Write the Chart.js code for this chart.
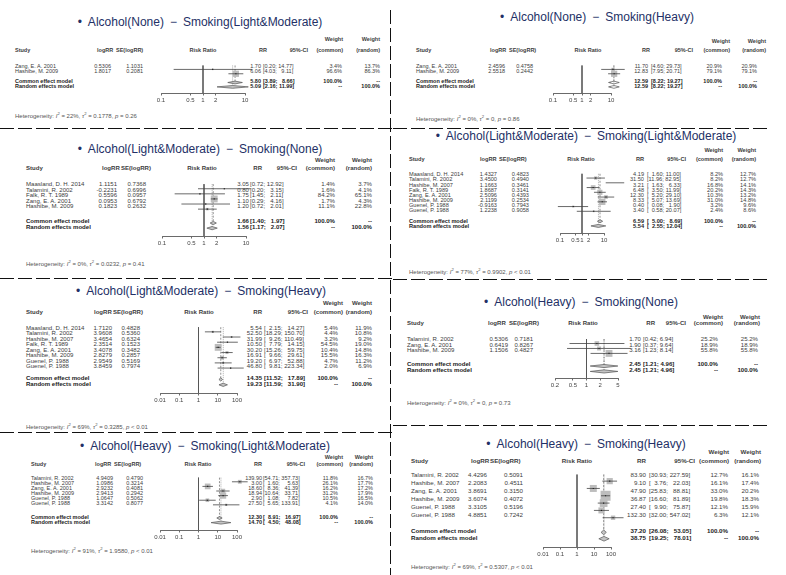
<!DOCTYPE html>
<html>
<head>
<meta charset="utf-8">
<script src="https://cdn.jsdelivr.net/npm/chart.js@4.4.1/dist/chart.umd.min.js"></script>
<style>
  html, body { margin: 0; padding: 0; background: #fff; }
  #page { position: relative; width: 786px; height: 575px; overflow: hidden;
          font-family: "Liberation Sans", Arial, sans-serif; }
  .t { position: absolute; white-space: nowrap; line-height: 0.8; }
  canvas { position: absolute; }
  svg { position: absolute; left: 0; top: 0; }
</style>
</head>
<body>
<div id="page">
  <svg width="786" height="575">
    <g stroke="#111" stroke-width="1" stroke-dasharray="14 4" fill="none">
      <line x1="390.5" y1="10" x2="390.5" y2="575"/>
      <line x1="0" y1="128.5" x2="394" y2="128.5"/>
      <line x1="0" y1="278.5" x2="394" y2="278.5"/>
      <line x1="0" y1="432.5" x2="394" y2="432.5"/>
      <line x1="393" y1="128.5" x2="770" y2="128.5"/>
      <line x1="393" y1="279.5" x2="770" y2="279.5"/>
      <line x1="393" y1="425.5" x2="770" y2="425.5"/>
    </g>
  </svg>
</div>
<script>
// ---- data: one block of small arrays per forest plot ----
const p1Title = ["None", "Light&Moderate"];
const p1Study = ["Zang, E. A. 2001", "Hashibe, M. 2009"];
const p1LogRR = [0.5306, 1.8017];
const p1SE = [1.1031, 0.2081];
const p1RR = [1.70, 6.06];
const p1Lo = [0.20, 4.03];
const p1Hi = [14.77, 9.11];
const p1WC = [3.4, 96.6];
const p1WR = [13.7, 86.3];
const p1Common = [5.80, 3.89, 8.66];
const p1Random = [5.09, 2.16, 11.99];
const p1Het = ["22%", "0.1778", "= 0.26"];
const p1Ticks = [0.1, 0.5, 1, 2, 10];

const p2Title = ["None", "Heavy"];
const p2Study = ["Zang, E. A. 2001", "Hashibe, M. 2009"];
const p2LogRR = [2.4596, 2.5518];
const p2SE = [0.4758, 0.2442];
const p2RR = [11.70, 12.83];
const p2Lo = [4.60, 7.95];
const p2Hi = [29.73, 20.71];
const p2WC = [20.9, 79.1];
const p2WR = [20.9, 79.1];
const p2Common = [12.59, 8.22, 19.27];
const p2Random = [12.59, 8.22, 19.27];
const p2Het = ["0%", "0", "= 0.86"];
const p2Ticks = [0.1, 0.5, 1, 2, 10];

const p3Title = ["Light&Moderate", "None"];
const p3Study = ["Maasland, D. H. 2014", "Talamini, R. 2002", "Falk, R. T. 1989", "Zang, E. A. 2001", "Hashibe, M. 2009"];
const p3LogRR = [1.1151, -0.2231, 0.5596, 0.0953, 0.1823];
const p3SE = [0.7368, 0.6996, 0.0957, 0.6792, 0.2632];
const p3RR = [3.05, 0.80, 1.75, 1.10, 1.20];
const p3Lo = [0.72, 0.20, 1.45, 0.29, 0.72];
const p3Hi = [12.92, 3.15, 2.11, 4.16, 2.01];
const p3WC = [1.4, 1.6, 84.2, 1.7, 11.1];
const p3WR = [3.7, 4.1, 65.1, 4.3, 22.8];
const p3Common = [1.66, 1.40, 1.97];
const p3Random = [1.56, 1.17, 2.07];
const p3Het = ["0%", "0.0232", "= 0.41"];
const p3Ticks = [0.1, 0.5, 1, 2, 10];

const p4Title = ["Light&Moderate", "Light&Moderate"];
const p4Study = ["Maasland, D. H. 2014", "Talamini, R. 2002", "Hashibe, M. 2007", "Falk, R. T. 1989", "Zang, E. A. 2001", "Hashibe, M. 2009", "Guenel, P. 1988", "Guenel, P. 1988"];
const p4LogRR = [1.4327, 3.4500, 1.1663, 1.8687, 2.5096, 2.1199, -0.9163, 1.2238];
const p4SE = [0.4823, 0.4940, 0.3461, 0.3141, 0.4393, 0.2534, 0.7943, 0.9058];
const p4RR = [4.19, 31.50, 3.21, 6.48, 12.30, 8.33, 0.40, 3.40];
const p4Lo = [1.60, 11.96, 1.63, 3.50, 5.20, 5.07, 0.08, 0.58];
const p4Hi = [11.00, 82.95, 6.33, 11.99, 29.10, 13.69, 1.90, 20.07];
const p4WC = [8.2, 8.2, 16.8, 20.2, 10.3, 31.0, 3.2, 2.4];
const p4WR = [12.7, 12.7, 14.1, 14.3, 13.2, 14.8, 9.6, 8.6];
const p4Common = [6.59, 5.00, 8.69];
const p4Random = [5.54, 2.55, 12.04];
const p4Het = ["77%", "0.9902", "< 0.01"];
const p4Ticks = [0.1, 0.5, 1, 2, 10];

const p5Title = ["Light&Moderate", "Heavy"];
const p5Study = ["Maasland, D. H. 2014", "Talamini, R. 2002", "Hashibe, M. 2007", "Falk, R. T. 1989", "Zang, E. A. 2001", "Hashibe, M. 2009", "Guenel, P. 1988", "Guenel, P. 1988"];
const p5LogRR = [1.7120, 3.9608, 3.4654, 2.3514, 3.4078, 2.8279, 2.9549, 3.8459];
const p5SE = [0.4828, 0.5360, 0.6324, 0.1523, 0.3482, 0.2857, 0.5169, 0.7974];
const p5RR = [5.54, 52.50, 31.99, 10.50, 30.20, 16.91, 19.20, 46.80];
const p5Lo = [2.15, 18.29, 9.26, 7.79, 15.26, 9.66, 6.97, 9.81];
const p5Hi = [14.27, 150.70, 110.49, 14.15, 59.75, 29.61, 52.88, 223.34];
const p5WC = [5.4, 4.4, 3.2, 54.5, 10.4, 15.5, 4.7, 2.0];
const p5WR = [11.9, 10.8, 9.2, 19.0, 14.8, 16.3, 11.2, 6.9];
const p5Common = [14.35, 11.52, 17.89];
const p5Random = [19.23, 11.59, 31.90];
const p5Het = ["69%", "0.3285", "< 0.01"];
const p5Ticks = [0.01, 0.1, 1, 10, 100];

const p6Title = ["Heavy", "None"];
const p6Study = ["Talamini, R. 2002", "Zang, E. A. 2001", "Hashibe, M. 2009"];
const p6LogRR = [0.5306, 0.6419, 1.1506];
const p6SE = [0.7181, 0.8267, 0.4827];
const p6RR = [1.70, 1.90, 3.16];
const p6Lo = [0.42, 0.37, 1.23];
const p6Hi = [6.94, 9.64, 8.14];
const p6WC = [25.2, 18.9, 55.8];
const p6WR = [25.2, 18.9, 55.8];
const p6Common = [2.45, 1.21, 4.96];
const p6Random = [2.45, 1.21, 4.96];
const p6Het = ["0%", "0", "= 0.73"];
const p6Ticks = [0.2, 0.5, 1, 2, 5];

const p7Title = ["Heavy", "Light&Moderate"];
const p7Study = ["Talamini, R. 2002", "Hashibe, M. 2007", "Zang, E. A. 2001", "Hashibe, M. 2009", "Guenel, P. 1988", "Guenel, P. 1988"];
const p7LogRR = [4.9409, 1.0986, 2.9232, 2.9413, 1.0647, 3.3142];
const p7SE = [0.4790, 0.3214, 0.4081, 0.2942, 0.5062, 0.8077];
const p7RR = [139.90, 3.00, 18.60, 18.94, 2.90, 27.50];
const p7Lo = [54.71, 1.60, 8.36, 10.64, 1.08, 5.65];
const p7Hi = [357.73, 5.63, 41.39, 33.71, 7.82, 133.91];
const p7WC = [11.8, 26.1, 16.2, 31.2, 10.5, 4.1];
const p7WR = [16.7, 17.7, 17.2, 17.9, 16.5, 14.0];
const p7Common = [12.30, 8.91, 16.97];
const p7Random = [14.70, 4.50, 48.08];
const p7Het = ["91%", "1.9580", "< 0.01"];
const p7Ticks = [0.01, 0.1, 1, 10, 100];

const p8Title = ["Heavy", "Heavy"];
const p8Study = ["Talamini, R. 2002", "Hashibe, M. 2007", "Zang, E. A. 2001", "Hashibe, M. 2009", "Guenel, P. 1988", "Guenel, P. 1988"];
const p8LogRR = [4.4296, 2.2083, 3.8691, 3.6074, 3.3105, 4.8851];
const p8SE = [0.5091, 0.4511, 0.3150, 0.4072, 0.5196, 0.7242];
const p8RR = [83.90, 9.10, 47.90, 36.87, 27.40, 132.30];
const p8Lo = [30.93, 3.76, 25.83, 16.60, 9.90, 32.00];
const p8Hi = [227.59, 22.03, 88.81, 81.89, 75.87, 547.02];
const p8WC = [12.7, 16.1, 33.0, 19.8, 12.1, 6.3];
const p8WR = [16.1, 17.4, 20.2, 18.3, 15.9, 12.1];
const p8Common = [37.20, 26.08, 53.05];
const p8Random = [38.75, 19.25, 78.01];
const p8Het = ["69%", "0.5307", "< 0.01"];
const p8Ticks = [0.01, 0.1, 1, 10, 100];

// ---- where each panel sits on the page (pixels) ----
const LAYOUT = [
  { tx: 200, ty: 23, wy: 39, hy: 50, sx: 15, lx: 97, lv: 111, sh: 116, sv: 143, rx: 203, rrx: 267, rrv: 261, cix: 263, cih: 308, wc: 343, wcv: 342, wr: 380, wrv: 380, y0: 66, rh: 5, yc: 81, yr: 86, ya: 93, hety: 115, axL: 161, axR: 245 },
  { tx: 597, ty: 18, wy: 41, hy: 50, sx: 416, lx: 490, lv: 505, sh: 509, sv: 533, rx: 588, rrx: 650, rrv: 648, cix: 651, cih: 693, wc: 730, wcv: 722, wr: 766, wrv: 757, y0: 66, rh: 5, yc: 81, yr: 86, ya: 93, hety: 118, axL: 553, axR: 611 },
  { tx: 200, ty: 150, wy: 160, hy: 168, sx: 26, lx: 102, lv: 117, sh: 121, sv: 146, rx: 202, rrx: 262, rrv: 249, cix: 250, cih: 297, wc: 335, wcv: 335, wr: 372, wrv: 372, y0: 184, rh: 5.5, yc: 221, yr: 226.5, ya: 235, hety: 263, axL: 162, axR: 246 },
  { tx: 586, ty: 137, wy: 150, hy: 159, sx: 409, lx: 480, lv: 497, sh: 499, sv: 529, rx: 581, rrx: 644, rrv: 644, cix: 647, cih: 686, wc: 723, wcv: 723, wr: 756, wrv: 756, y0: 174.3, rh: 5.1, yc: 220.7, yr: 225.7, ya: 233.3, hety: 271, axL: 560, axR: 604 },
  { tx: 201, ty: 292, wy: 303, hy: 312, sx: 26, lx: 94, lv: 112, sh: 113, sv: 140, rx: 199, rrx: 262, rrv: 262, cix: 264, cih: 308, wc: 343, wcv: 338, wr: 372, wrv: 372, y0: 327.7, rh: 5.5, yc: 378.3, yr: 384, ya: 392.7, hety: 426, axL: 160, axR: 237.3 },
  { tx: 581, ty: 303, wy: 317, hy: 323, sx: 407, lx: 488, lv: 508, sh: 509, sv: 533, rx: 583, rrx: 655, rrv: 641, cix: 643, cih: 686, wc: 723, wcv: 718, wr: 760, wrv: 758, y0: 339, rh: 5.5, yc: 364, yr: 370, ya: 377.3, hety: 402, axL: 554.5, axR: 617.5 },
  { tx: 205, ty: 447, wy: 457, hy: 464, sx: 31, lx: 95, lv: 113, sh: 114, sv: 143, rx: 198, rrx: 262, rrv: 262, cix: 263, cih: 305, wc: 343, wcv: 338, wr: 373, wrv: 373, y0: 477.7, rh: 5, yc: 517, yr: 522, ya: 530, hety: 550, axL: 160, axR: 237 },
  { tx: 586, ty: 445, wy: 452, hy: 461, sx: 411, lx: 471, lv: 487, sh: 490, sv: 523, rx: 577, rrx: 646, rrv: 646, cix: 649, cih: 695, wc: 729, wcv: 728, wr: 761, wrv: 759, y0: 475, rh: 8, yc: 531, yr: 538, ya: 547, hety: 566, axL: 543, axR: 611 }
];

const PANELS = [
  { title: p1Title, study: p1Study, logrr: p1LogRR, se: p1SE, rr: p1RR, lo: p1Lo, hi: p1Hi, wc: p1WC, wr: p1WR, common: p1Common, random: p1Random, het: p1Het, ticks: p1Ticks },
  { title: p2Title, study: p2Study, logrr: p2LogRR, se: p2SE, rr: p2RR, lo: p2Lo, hi: p2Hi, wc: p2WC, wr: p2WR, common: p2Common, random: p2Random, het: p2Het, ticks: p2Ticks },
  { title: p3Title, study: p3Study, logrr: p3LogRR, se: p3SE, rr: p3RR, lo: p3Lo, hi: p3Hi, wc: p3WC, wr: p3WR, common: p3Common, random: p3Random, het: p3Het, ticks: p3Ticks },
  { title: p4Title, study: p4Study, logrr: p4LogRR, se: p4SE, rr: p4RR, lo: p4Lo, hi: p4Hi, wc: p4WC, wr: p4WR, common: p4Common, random: p4Random, het: p4Het, ticks: p4Ticks },
  { title: p5Title, study: p5Study, logrr: p5LogRR, se: p5SE, rr: p5RR, lo: p5Lo, hi: p5Hi, wc: p5WC, wr: p5WR, common: p5Common, random: p5Random, het: p5Het, ticks: p5Ticks },
  { title: p6Title, study: p6Study, logrr: p6LogRR, se: p6SE, rr: p6RR, lo: p6Lo, hi: p6Hi, wc: p6WC, wr: p6WR, common: p6Common, random: p6Random, het: p6Het, ticks: p6Ticks },
  { title: p7Title, study: p7Study, logrr: p7LogRR, se: p7SE, rr: p7RR, lo: p7Lo, hi: p7Hi, wc: p7WC, wr: p7WR, common: p7Common, random: p7Random, het: p7Het, ticks: p7Ticks },
  { title: p8Title, study: p8Study, logrr: p8LogRR, se: p8SE, rr: p8RR, lo: p8Lo, hi: p8Hi, wc: p8WC, wr: p8WR, common: p8Common, random: p8Random, het: p8Het, ticks: p8Ticks }
];

const FONT = "'Liberation Sans', Arial, sans-serif";
const INK = "#3c3c3c";
const TITLE_COLOR = "#233066";
const page = document.getElementById("page");

function put(x, y, html, align, opts) {
  const el = document.createElement("span");
  el.className = "t";
  el.innerHTML = html;
  el.style.left = x + "px";
  el.style.top = y + "px";
  el.style.fontSize = opts.size + "px";
  el.style.color = opts.color || INK;
  if (opts.lh) el.style.lineHeight = opts.lh;
  if (opts.bold) el.style.fontWeight = "bold";
  const dx = align === "r" ? "-100%" : align === "c" ? "-50%" : "0";
  el.style.transform = "translate(" + dx + ",-50%)";
  page.appendChild(el);
}

const pad = (s, w) => "\u2007".repeat(Math.max(0, w - s.length)) + s;
const esc = (s) => s.replace(/&/g, "&amp;").replace(/</g, "&lt;");

function drawText(d, L) {
  // row font follows the row pitch so lines never collide
  const fs = Math.min(6.2, 1.1 * L.rh);
  const n = { size: fs };
  const hb = { size: fs, bold: true };
  const b = { size: fs, bold: true, color: "#222" };

  put(L.tx, L.ty, "•\u2002Alcohol(" + esc(d.title[0]) + ")\u2002−\u2002Smoking(" + esc(d.title[1]) + ")", "c",
      { size: 12, color: TITLE_COLOR, lh: 1.1 });

  // header
  put(L.wc, L.wy, "Weight", "r", hb);
  put(L.wr, L.wy, "Weight", "r", hb);
  put(L.sx, L.hy, "Study", "l", hb);
  put(L.lx, L.hy, "logRR", "l", hb);
  put(L.sh, L.hy, "SE(logRR)", "l", hb);
  put(L.rx, L.hy, "Risk Ratio", "c", hb);
  put(L.rrx, L.hy, "RR", "r", hb);
  put(L.cih, L.hy, "95%-CI", "r", hb);
  put(L.wc, L.hy, "(common)", "r", hb);
  put(L.wr, L.hy, "(random)", "r", hb);

  const allLo = d.lo.concat([d.common[1], d.random[1]]).map(v => v.toFixed(2).length);
  const allHi = d.hi.concat([d.common[2], d.random[2]]).map(v => v.toFixed(2).length);
  const wLo = Math.max(...allLo), wHi = Math.max(...allHi);
  const ci = (lo, hi) => "[" + pad(lo.toFixed(2), wLo) + "; " + pad(hi.toFixed(2), wHi) + "]";

  d.study.forEach((name, i) => {
    const y = L.y0 + i * L.rh;
    put(L.sx, y, esc(name), "l", n);
    put(L.lv, y, d.logrr[i].toFixed(4), "r", n);
    put(L.sv, y, d.se[i].toFixed(4), "r", n);
    put(L.rrv, y, d.rr[i].toFixed(2), "r", n);
    put(L.cix, y, ci(d.lo[i], d.hi[i]), "l", n);
    put(L.wcv, y, d.wc[i].toFixed(1) + "%", "r", n);
    put(L.wrv, y, d.wr[i].toFixed(1) + "%", "r", n);
  });

  put(L.sx, L.yc, "Common effect model", "l", b);
  put(L.rrv, L.yc, d.common[0].toFixed(2), "r", b);
  put(L.cix, L.yc, ci(d.common[1], d.common[2]), "l", b);
  put(L.wcv, L.yc, "100.0%", "r", b);
  put(L.wrv, L.yc, "--", "r", b);
  put(L.sx, L.yr, "Random effects model", "l", b);
  put(L.rrv, L.yr, d.random[0].toFixed(2), "r", b);
  put(L.cix, L.yr, ci(d.random[1], d.random[2]), "l", b);
  put(L.wcv, L.yr, "--", "r", b);
  put(L.wrv, L.yr, "100.0%", "r", b);

  put(L.sx, L.hety, "Heterogeneity: <i>I</i><sup style='font-size:70%'>2</sup> = " + d.het[0] +
      ", <i>τ</i><sup style='font-size:70%'>2</sup> = " + d.het[1] + ", <i>p</i> " + esc(d.het[2]), "l",
      { size: 6, color: "#555" });
}

function drawForest(d, L) {
  const padL = 12, padR = 26, axH = 13;
  const top = L.y0 - L.rh - 3;
  const w = Math.round(L.axR - L.axL + padL + padR);
  const h = Math.round(L.ya - top + axH);
  const cv = document.createElement("canvas");
  cv.width = w; cv.height = h;
  cv.style.width = w + "px"; cv.style.height = h + "px";
  cv.style.left = (L.axL - padL) + "px";
  cv.style.top = top + "px";
  page.appendChild(cv);

  const rowY = d.study.map((_, i) => L.y0 + i * L.rh);
  const wMax = Math.max(...d.wc);
  const side = d.wc.map(v => Math.max(1.5, 1.25 * L.rh * Math.sqrt(v / wMax)));
  const ciPts = [];
  d.lo.forEach((lo, i) => {
    ciPts.push({ x: lo, y: rowY[i] }, { x: d.hi[i], y: rowY[i] }, { x: null, y: null });
  });
  const est = d.rr.map((v, i) => ({ x: v, y: rowY[i] }));
  const hh = 0.32 * L.rh;
  const diamond = (s, y) => [
    { x: s[1], y: y }, { x: s[0], y: y - hh }, { x: s[2], y: y }, { x: s[0], y: y + hh }, { x: s[1], y: y }
  ];
  const lineTop = L.y0 - 0.9 * L.rh;
  const lineStyle = { type: "line", pointRadius: 0, borderWidth: 0.8, tension: 0, clip: false, fill: false };

  new Chart(cv, {
    type: "scatter",
    data: {
      datasets: [
        { ...lineStyle, order: 9, data: [{ x: 1, y: lineTop }, { x: 1, y: L.ya }], borderColor: "#555" },
        { ...lineStyle, order: 8, data: [{ x: d.common[0], y: lineTop }, { x: d.common[0], y: L.yc }],
          borderColor: "#777", borderDash: [2, 1.5] },
        { ...lineStyle, order: 8, data: [{ x: d.random[0], y: lineTop }, { x: d.random[0], y: L.yr }],
          borderColor: "#999", borderDash: [1, 1] },
        { type: "scatter", order: 3, data: est, pointStyle: "rect", pointRadius: side.map(s => s / Math.SQRT2),
          backgroundColor: "#bdbdbd", borderWidth: 0, clip: false },
        { ...lineStyle, order: 2, data: ciPts, borderColor: "#444", spanGaps: false },
        { type: "scatter", order: 1, data: est, pointStyle: "rect", pointRadius: 0.8,
          backgroundColor: "#222", borderWidth: 0, clip: false },
        { ...lineStyle, order: 2, data: diamond(d.common, L.yc), fill: "shape",
          backgroundColor: "#c4c4c4", borderColor: "#555", borderWidth: 0.7 },
        { ...lineStyle, order: 2, data: diamond(d.random, L.yr), fill: "shape",
          backgroundColor: "#c4c4c4", borderColor: "#555", borderWidth: 0.7 }
      ]
    },
    options: {
      responsive: false,
      animation: false,
      events: [],
      layout: { padding: { left: padL, right: padR, top: 0, bottom: 0 } },
      plugins: { legend: { display: false }, tooltip: { enabled: false } },
      scales: {
        x: {
          type: "logarithmic",
          position: "bottom",
          min: d.ticks[0],
          max: d.ticks[d.ticks.length - 1],
          afterBuildTicks: (s) => { s.ticks = d.ticks.map(v => ({ value: v })); },
          afterFit: (s) => { s.height = axH; },
          ticks: { font: { size: 6, family: FONT }, color: "#444", padding: 1, maxRotation: 0,
                   autoSkip: false, callback: (v) => String(v) },
          grid: { drawOnChartArea: false, drawTicks: true, tickLength: 2.5, color: "#444", lineWidth: 0.8 },
          border: { display: true, color: "#444", width: 0.8 }
        },
        y: { type: "linear", reverse: true, min: top, max: L.ya, display: false }
      }
    }
  });
}

PANELS.forEach((d, k) => {
  drawText(d, LAYOUT[k]);
  drawForest(d, LAYOUT[k]);
});
</script>
</body>
</html>
